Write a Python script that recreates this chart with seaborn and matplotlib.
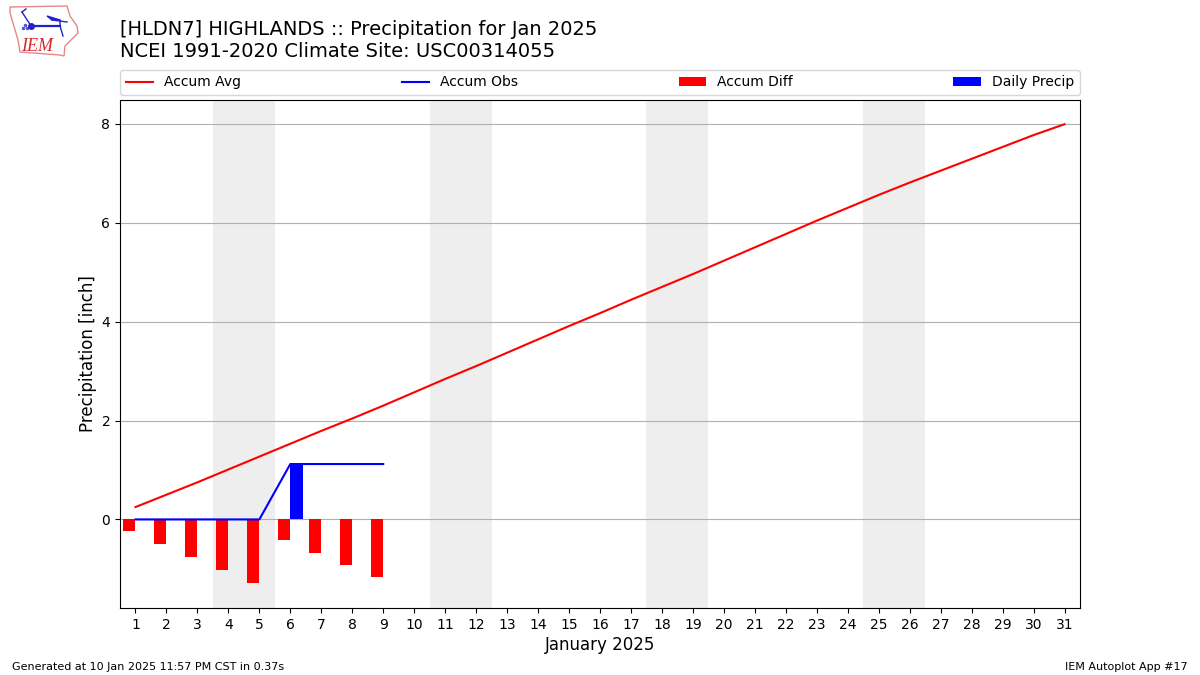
import matplotlib
matplotlib.use("Agg")
import matplotlib.pyplot as plt
import numpy as np
import pandas as pd
import seaborn as sns

days = list(range(1, 32))
accum_avg = [0.25, 0.50, 0.75, 1.01, 1.27, 1.53, 1.79, 2.04, 2.30, 2.57, 2.84,
             3.10, 3.37, 3.64, 3.91, 4.17, 4.44, 4.70, 4.96, 5.23, 5.50, 5.77,
             6.04, 6.30, 6.56, 6.81, 7.05, 7.29, 7.53, 7.77, 7.99]
obs_days = [1, 2, 3, 4, 5, 6, 7, 8, 9]
accum_obs = [0, 0, 0, 0, 0, 1.12, 1.12, 1.12, 1.12]
accum_diff = [-0.24, -0.50, -0.76, -1.02, -1.28, -0.41, -0.68, -0.93, -1.17]
daily_precip = [0, 0, 0, 0, 0, 1.12, 0, 0, 0]
weekends = [(3.5, 5.5), (10.5, 12.5), (17.5, 19.5), (24.5, 26.5)]
y_ticks = [0, 2, 4, 6, 8]

# Iowa outline and station model for the logo, in reference pixels
logo_outline = [(10, 7), (67, 6), (70, 16), (77, 26), (78, 33), (70, 41), (65, 46),
                (64, 56), (60, 55), (20, 52), (18, 40), (13, 23), (10, 13)]
logo_bar = [(31, 26), (60, 26)]
logo_staff = [(31, 26), (22, 12)]
logo_barb = [(22, 12), (26, 9)]
logo_flag = [(47, 16), (60, 20), (52, 20)]
logo_wing = [(52, 20), (67, 22)]
logo_tail = [(60, 20), (60, 26), (63, 36)]
logo_dots = [(25, 25), (23, 28), (27, 28)]


def px(points):
    return [(x / 1200, 1 - y / 675) for x, y in points]


def draw_logo(fig):
    fig.add_artist(plt.Polygon(px(logo_outline), closed=True, fill=False,
                               ec="#e08a8a", lw=1, transform=fig.transFigure))
    for line, lw in ((logo_bar, 1.6), (logo_staff, 1), (logo_barb, 1), (logo_wing, 1), (logo_tail, 1)):
        xy = np.array(px(line))
        fig.add_artist(plt.Line2D(xy[:, 0], xy[:, 1], color="#2222cc", lw=lw,
                                  transform=fig.transFigure))
    fig.add_artist(plt.Polygon(px(logo_flag), closed=True, color="#2222cc",
                               transform=fig.transFigure))
    xy = np.array(px(logo_dots))
    fig.add_artist(plt.Line2D(xy[:, 0], xy[:, 1], color="#5555cc", ls="none", marker="o",
                              ms=1.5, transform=fig.transFigure))
    xy = np.array(px(logo_bar[:1]))
    fig.add_artist(plt.Line2D(xy[:, 0], xy[:, 1], color="#2222cc", ls="none", marker="o",
                              ms=4, transform=fig.transFigure))
    fig.text(21 / 1200, 1 - 51 / 675, "IEM", color="#d62a2a", fontsize=13,
             family="Liberation Serif", style="italic")


avg_df = pd.DataFrame({"day": days, "precip": accum_avg})
obs_df = pd.DataFrame({"day": obs_days, "precip": accum_obs})

fig = plt.figure(figsize=(12, 6.75), dpi=100)
ax = fig.add_axes([0.1, 0.0993, 0.8, 0.7526])

for start, end in weekends:
    ax.axvspan(start, end, color="#eeeeee", lw=0, zorder=0)

sns.lineplot(data=avg_df, x="day", y="precip", color="r", label="Accum Avg",
             errorbar=None, ax=ax, zorder=3)
sns.lineplot(data=obs_df, x="day", y="precip", color="b", label="Accum Obs",
             errorbar=None, ax=ax, zorder=3)
ax.bar(obs_days, accum_diff, width=-0.4, align="edge", color="r", label="Accum Diff", zorder=2)
ax.bar(obs_days, daily_precip, width=0.4, align="edge", color="b", label="Daily Precip", zorder=2)

ax.set_xlim(0.5, 31.5)
ax.set_ylim(-1.79, 8.48)
ax.set_xticks(days)
ax.set_yticks(y_ticks)
ax.grid(axis="y", color="#b0b0b0", zorder=1)
ax.set_axisbelow(True)
ax.set_xlabel("January 2025", fontsize=12, labelpad=3)
ax.set_ylabel("Precipitation [inch]", fontsize=12, labelpad=3)

ax.legend(bbox_to_anchor=(0, 1.0098, 1, 0.05), loc="lower left", ncol=4,
          mode="expand", borderaxespad=0, fontsize=10)

fig.text(0.1, 0.957, "[HLDN7] HIGHLANDS :: Precipitation for Jan 2025", fontsize=14, va="center")
fig.text(0.1, 0.9244, "NCEI 1991-2020 Climate Site: USC00314055", fontsize=14, va="center")
fig.text(0.01, 0.008, "Generated at 10 Jan 2025 11:57 PM CST in 0.37s", fontsize=8)
fig.text(0.99, 0.008, "IEM Autoplot App #17", fontsize=8, ha="right")
draw_logo(fig)

fig.savefig("out.png", dpi=100)
